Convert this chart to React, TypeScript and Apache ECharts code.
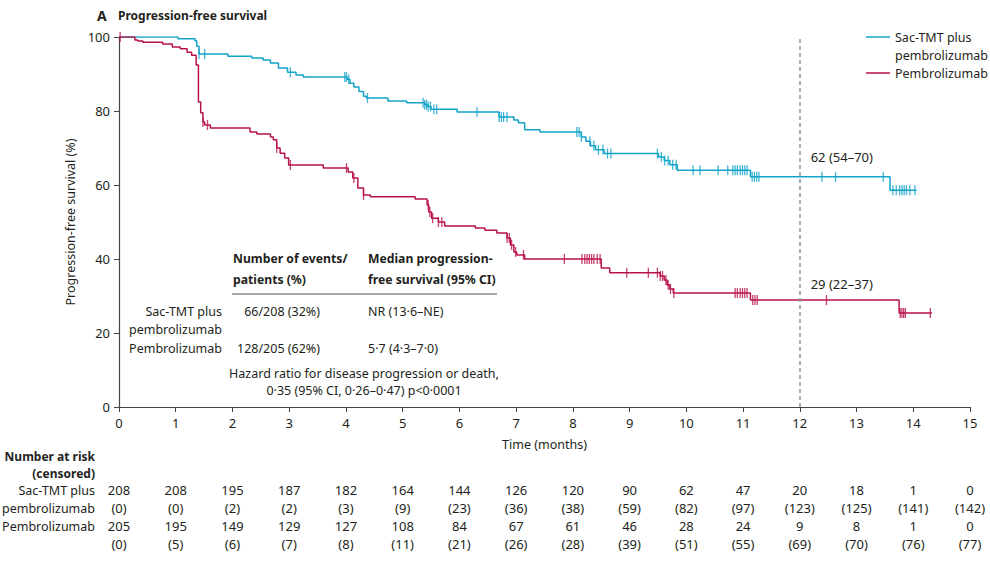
import React, { useEffect, useRef } from "react";
import * as echarts from "echarts";

// Kaplan–Meier step points (months, % progression-free)
const sacTimes = [0, 1.04, 1.34, 1.37, 1.41, 1.92, 2.34, 2.54, 2.67, 2.81, 2.97, 3.12, 3.25, 4.02, 4.07, 4.14, 4.23, 4.31, 4.36, 4.74, 5.07, 5.39, 5.44, 5.5, 5.96, 6.7, 6.96, 7.04, 7.15, 7.42, 8.15, 8.23, 8.31, 8.4, 8.55, 9.51, 9.61, 9.71, 9.84, 11.13, 13.59, 14.06];
const sacSurv = [100, 99.5, 99.0, 97.5, 95.4, 94.8, 94.3, 93.8, 93.0, 91.6, 90.5, 89.7, 89.2, 88.6, 87.5, 86.5, 85.3, 84.0, 83.5, 82.7, 82.2, 81.7, 81.2, 80.5, 79.7, 78.4, 77.6, 76.8, 74.9, 74.3, 73.0, 71.8, 70.6, 69.5, 68.5, 67.6, 66.6, 65.5, 64.0, 62.2, 58.6, 58.6];
const sacCensorTimes = [1.41, 1.51, 3.02, 3.98, 4.01, 4.05, 4.38, 5.36, 5.39, 5.42, 5.45, 5.49, 5.55, 5.6, 6.31, 6.7, 6.74, 6.78, 6.84, 8.07, 8.11, 8.15, 8.3, 8.37, 8.45, 8.53, 8.61, 8.67, 9.49, 9.56, 9.62, 9.68, 9.76, 9.82, 10.12, 10.24, 10.56, 10.73, 10.82, 10.86, 10.9, 10.95, 10.99, 11.03, 11.07, 11.16, 11.2, 11.24, 11.28, 12.39, 12.63, 13.47, 13.64, 13.7, 13.76, 13.8, 13.84, 13.88, 13.94, 14.03];

const pemTimes = [0, 0.28, 0.33, 0.42, 0.77, 0.94, 1.08, 1.2, 1.28, 1.36, 1.4, 1.44, 1.48, 1.51, 1.61, 2.31, 2.43, 2.67, 2.72, 2.78, 2.84, 2.92, 2.99, 3.6, 4.04, 4.12, 4.21, 4.31, 4.43, 5.22, 5.43, 5.46, 5.51, 5.63, 5.74, 6.28, 6.45, 6.66, 6.84, 6.9, 6.96, 7.01, 7.15, 8.5, 8.65, 9.54, 9.61, 9.66, 9.71, 9.77, 11.13, 13.75, 14.33];
const pemSurv = [100, 99.2, 98.9, 98.6, 98.1, 97.3, 96.8, 95.9, 95.1, 92.4, 82.4, 79.5, 77.0, 76.2, 75.4, 74.3, 73.8, 73.0, 72.2, 70.0, 68.6, 67.3, 65.4, 64.6, 63.5, 61.9, 59.2, 57.3, 56.8, 56.2, 54.6, 52.7, 51.0, 50.0, 48.9, 48.4, 47.8, 47.0, 45.7, 43.8, 41.9, 41.1, 40.0, 37.6, 36.3, 35.4, 34.3, 33.0, 31.9, 30.8, 28.9, 25.4, 25.4];
const pemCensorTimes = [0.02, 1.48, 1.56, 2.78, 3.02, 4.01, 4.14, 4.31, 5.45, 5.48, 5.53, 5.63, 5.69, 6.84, 6.88, 6.92, 6.99, 7.13, 7.85, 8.16, 8.21, 8.25, 8.29, 8.33, 8.37, 8.43, 8.48, 8.95, 9.33, 9.49, 9.54, 9.58, 9.64, 9.68, 9.72, 9.78, 10.86, 10.9, 10.95, 10.99, 11.03, 11.07, 11.17, 11.21, 11.25, 12.47, 13.77, 13.8, 13.83, 13.86, 14.3];

// 12-month landmark estimates
const landmarkMonth = 12;
const landmarkLabels = ["62 (54–70)", "29 (22–37)"];

// Number at risk (censored)
const riskMonths = [0, 1, 2, 3, 4, 5, 6, 7, 8, 9, 10, 11, 12, 13, 14, 15];
const sacAtRisk = [208, 208, 195, 187, 182, 164, 144, 126, 120, 90, 62, 47, 20, 18, 1, 0];
const sacCensored = [0, 0, 2, 2, 3, 9, 23, 36, 38, 59, 82, 97, 123, 125, 141, 142];
const pemAtRisk = [205, 195, 149, 129, 127, 108, 84, 67, 61, 46, 28, 24, 9, 8, 1, 0];
const pemCensored = [0, 5, 6, 7, 8, 11, 21, 26, 28, 39, 51, 55, 69, 70, 76, 77];

const armNames = ["Sac-TMT plus pembrolizumab", "Pembrolizumab"];

const BLUE = "#12a3c8";
const RED = "#b8124a";
const INK = "#231f20";
const FONT = "'Noto Sans', sans-serif";

function survivalAt(times: number[], surv: number[], t: number) {
  let v = surv[0];
  for (let i = 0; i < times.length; i++) {
    if (times[i] <= t) v = surv[i];
  }
  return v;
}

function txt(x: number, y: number, text: string, opts: any = {}) {
  return {
    type: "text",
    x,
    y,
    silent: true,
    style: {
      text,
      fill: INK,
      font: `${opts.bold ? "bold " : ""}${opts.size || 12.5}px ${FONT}`,
      textAlign: opts.align || "left",
      textVerticalAlign: "middle",
    },
  };
}

export default function App() {
  const ref = useRef<HTMLDivElement>(null);

  useEffect(() => {
    document.body.style.margin = "0";
    const chart = echarts.init(ref.current!, null, { renderer: "svg" });

    const sacLine = sacTimes.map((t, i) => [t, sacSurv[i]]);
    const pemLine = pemTimes.map((t, i) => [t, pemSurv[i]]);
    const sacCens = sacCensorTimes.map((t) => [t, survivalAt(sacTimes, sacSurv, t)]);
    const pemCens = pemCensorTimes.map((t) => [t, survivalAt(pemTimes, pemSurv, t)]);

    chart.setOption({
      animation: false,
      textStyle: { fontFamily: FONT, color: INK },
      grid: { left: 119, right: 20, top: 37, bottom: 160 },
      xAxis: {
        type: "value",
        min: 0,
        max: 15,
        interval: 1,
        name: "Time (months)",
        nameLocation: "middle",
        nameGap: 31,
        nameTextStyle: { fontSize: 12.5, color: INK, fontFamily: FONT },
        axisLine: { lineStyle: { color: "#444", width: 1.2 } },
        axisTick: { length: 5, lineStyle: { color: "#444" } },
        axisLabel: { fontSize: 13, color: INK, margin: 9, fontFamily: FONT },
        splitLine: { show: false },
      },
      yAxis: {
        type: "value",
        min: 0,
        max: 100,
        interval: 20,
        name: "Progression-free survival (%)",
        nameLocation: "middle",
        nameGap: 40,
        nameTextStyle: { fontSize: 12.5, color: INK, fontFamily: FONT },
        axisLine: { show: true, lineStyle: { color: "#444", width: 1.2 } },
        axisTick: { show: true, length: 5, lineStyle: { color: "#444" } },
        axisLabel: { fontSize: 13, color: INK, margin: 9, fontFamily: FONT },
        splitLine: { show: false },
      },
      series: [
        {
          name: armNames[0],
          type: "line",
          step: "end",
          data: sacLine,
          showSymbol: false,
          lineStyle: { color: BLUE, width: 1.5 },
          z: 3,
          markLine: {
            silent: true,
            symbol: "none",
            label: { show: false },
            lineStyle: { color: "#8c9aa8", type: [4, 3], width: 1.5 },
            data: [{ xAxis: landmarkMonth }],
          },
        },
        {
          name: armNames[1],
          type: "line",
          step: "end",
          data: pemLine,
          showSymbol: false,
          lineStyle: { color: RED, width: 1.5 },
          z: 3,
        },
        {
          type: "scatter",
          data: sacCens,
          symbol: "rect",
          symbolSize: [1.3, 10],
          itemStyle: { color: BLUE },
          z: 4,
        },
        {
          type: "scatter",
          data: pemCens,
          symbol: "rect",
          symbolSize: [1.3, 10],
          itemStyle: { color: RED },
          z: 4,
        },
      ],
    });

    const px = (x: number, y: number) =>
      chart.convertToPixel({ gridIndex: 0 }, [x, y]) as number[];

    const g: any[] = [];

    // Panel heading
    g.push(txt(97, 15, "A", { bold: true, size: 14 }));
    g.push(txt(118, 15, "Progression-free survival", { bold: true, size: 12 }));

    // Legend
    g.push({ type: "line", shape: { x1: 866, y1: 37, x2: 890, y2: 37 }, style: { stroke: BLUE, lineWidth: 1.5 } });
    g.push(txt(895, 37, "Sac-TMT plus"));
    g.push(txt(895, 55, "pembrolizumab"));
    g.push({ type: "line", shape: { x1: 866, y1: 73, x2: 890, y2: 73 }, style: { stroke: RED, lineWidth: 1.5 } });
    g.push(txt(895, 73, "Pembrolizumab"));

    // 12-month landmark labels
    const sac12 = px(landmarkMonth, survivalAt(sacTimes, sacSurv, landmarkMonth));
    const pem12 = px(landmarkMonth, survivalAt(pemTimes, pemSurv, landmarkMonth));
    g.push(txt(sac12[0] + 42, sac12[1] - 20, landmarkLabels[0], { align: "center", size: 13 }));
    g.push(txt(pem12[0] + 42, pem12[1] - 16, landmarkLabels[1], { align: "center", size: 13 }));

    // Summary table inside the plot
    g.push(txt(233, 258, "Number of events/", { bold: true, size: 12.2 }));
    g.push(txt(233, 279, "patients (%)", { bold: true, size: 12.2 }));
    g.push(txt(368, 258, "Median progression-", { bold: true, size: 12.2 }));
    g.push(txt(368, 279, "free survival (95% CI)", { bold: true, size: 12.2 }));
    g.push({ type: "line", shape: { x1: 232, y1: 294, x2: 497, y2: 294 }, style: { stroke: "#8a8a8a", lineWidth: 1.5 } });
    g.push(txt(222, 311, "Sac-TMT plus", { align: "right" }));
    g.push(txt(222, 329, "pembrolizumab", { align: "right" }));
    g.push(txt(222, 348, "Pembrolizumab", { align: "right" }));
    g.push(txt(320, 311, "66/208 (32%)", { align: "right" }));
    g.push(txt(320, 348, "128/205 (62%)", { align: "right" }));
    g.push(txt(368, 311, "NR (13·6–NE)"));
    g.push(txt(368, 348, "5·7 (4·3–7·0)"));
    g.push(txt(364, 373, "Hazard ratio for disease progression or death,", { align: "center" }));
    g.push(txt(364, 390, "0·35 (95% CI, 0·26–0·47) p<0·0001", { align: "center" }));

    // Number at risk table
    g.push(txt(95, 456, "Number at risk", { align: "right", bold: true, size: 12 }));
    g.push(txt(95, 473, "(censored)", { align: "right", bold: true, size: 12 }));
    g.push(txt(95, 490, "Sac-TMT plus", { align: "right" }));
    g.push(txt(95, 508, "pembrolizumab", { align: "right" }));
    g.push(txt(95, 526, "Pembrolizumab", { align: "right" }));
    riskMonths.forEach((m, i) => {
      const x = px(m, 0)[0];
      g.push(txt(x, 490, String(sacAtRisk[i]), { align: "center", size: 13 }));
      g.push(txt(x, 508, `(${sacCensored[i]})`, { align: "center", size: 13 }));
      g.push(txt(x, 526, String(pemAtRisk[i]), { align: "center", size: 13 }));
      g.push(txt(x, 544, `(${pemCensored[i]})`, { align: "center", size: 13 }));
    });

    chart.setOption({ graphic: { elements: g } });

    return () => chart.dispose();
  }, []);

  return <div ref={ref} style={{ width: 990, height: 567 }} />;
}
